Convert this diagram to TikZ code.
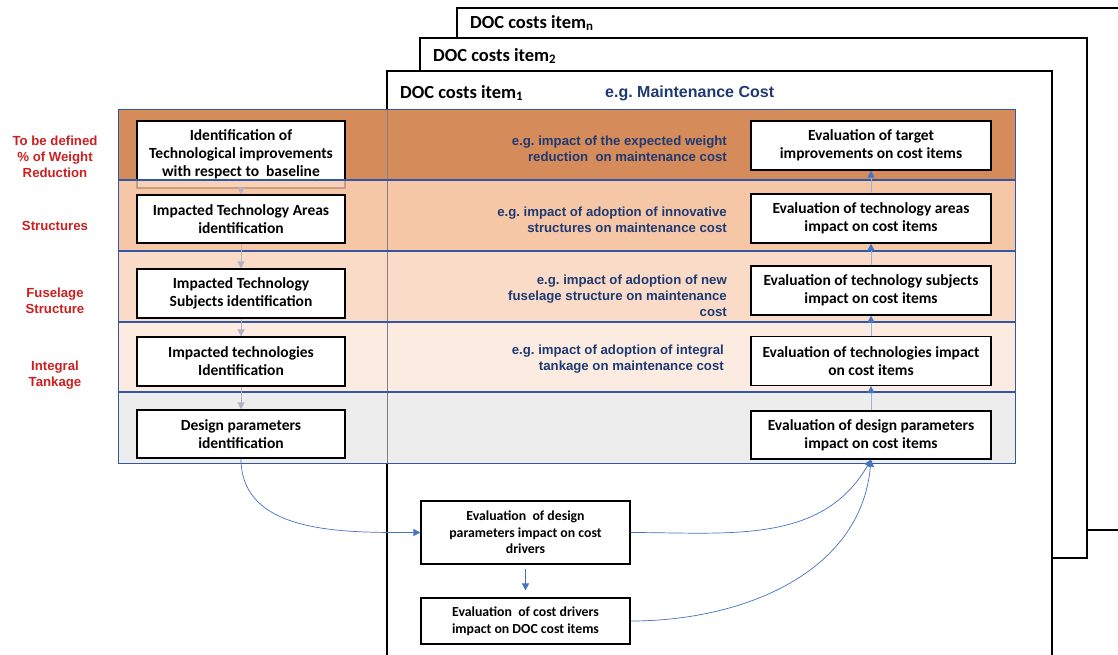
\documentclass[tikz,border=0pt]{standalone}
\usepackage{fontspec}
\setmainfont{Carlito}
\newfontfamily\arialfont{Liberation Sans}
\usetikzlibrary{arrows.meta}
\definecolor{bandA}{HTML}{D58B5A}
\definecolor{bandB}{HTML}{F6C7A6}
\definecolor{bandC}{HTML}{F9DBC7}
\definecolor{bandD}{HTML}{FCEBE0}
\definecolor{bandE}{HTML}{EDEDED}
\definecolor{rule}{HTML}{3457A3}
\definecolor{flow}{HTML}{4472C4}
\definecolor{lavender}{HTML}{B5B0C5}
\definecolor{navy}{HTML}{1F3A73}
\definecolor{redtext}{HTML}{CC1F1F}
\frenchspacing
\begin{document}
\begin{tikzpicture}[x=1pt,y=-1pt,>={Triangle[length=7pt,width=7pt]},
	box/.style={draw=black,line width=1.2pt,fill=white,align=center,inner sep=0pt,
		minimum width=208pt,minimum height=49pt,font=\fontsize{15.5}{18}\selectfont\bfseries},
	evbox/.style={box,minimum width=240pt},
	smallbox/.style={box,minimum width=209pt,font=\fontsize{13.8}{16.5}\selectfont\bfseries},
	frame/.style={draw=black,line width=1.2pt,fill=white},
	title/.style={anchor=west,inner sep=0pt,font=\fontsize{18.5}{20}\selectfont\bfseries},
	lvl/.style={align=center,text=redtext,inner sep=0pt,font=\arialfont\fontsize{13.2}{16}\selectfont\bfseries},
	eg/.style={align=right,anchor=east,text=navy,inner sep=0pt,font=\arialfont\fontsize{13.2}{16}\selectfont\bfseries},
	down/.style={->,lavender,line width=0.8pt},
	up/.style={-{Triangle[length=7pt,width=7pt,color=flow]},draw={flow!55},line width=0.8pt},
	curve/.style={->,flow,line width=0.7pt}]
\useasboundingbox (0,0) rectangle (1118,654);
% cost item frames
\draw[frame] (457,8) rectangle (1135,530);
\draw[frame] (420,38) rectangle (1087,558);
\draw[frame] (387,71) rectangle (1052,665);
\node[title] (itemn) at (470,23) {DOC costs item\textsubscript{n}};
\node[title] (item2) at (433,56) {DOC costs item\textsubscript{2}};
\node[title] (item1) at (400,93) {DOC costs item\textsubscript{1}};
\node[title,text=navy,font=\arialfont\fontsize{16}{19}\selectfont\bfseries] (maint) at (605,93) {e.g. Maintenance Cost};
% bands
\fill[bandA] (118,109) rectangle (1015,180);
\fill[bandB] (118,180) rectangle (1015,251);
\fill[bandC] (118,251) rectangle (1015,322);
\fill[bandD] (118,322) rectangle (1015,392);
\fill[bandE] (118,392) rectangle (1015,463);
\draw[gray,line width=0.8pt] (387,109) -- (387,463);
\node[lvl] (weight) at (55,157) {To be defined\\\% of Weight\\Reduction};
\node[lvl] (struct) at (55,226) {Structures};
\node[lvl] (fuselage) at (55,301) {Fuselage\\Structure};
\node[lvl] (tankage) at (55,375) {Integral\\Tankage};
\node[eg] (egA) at (727,148.5) {e.g. impact of the expected weight\\reduction \ on maintenance cost};
\node[eg] (egB) at (727,220) {e.g. impact of adoption of innovative\\structures on maintenance cost};
\node[eg] (egC) at (727,296) {e.g. impact of adoption of new\\fuselage structure on maintenance\\cost};
\node[eg] (egD) at (724,359) {e.g. impact of adoption of integral\\tankage on maintenance cost};
% left column
\node[box,minimum height=67pt] (idtech) at (241,154.5) {Identification of\\Technological improvements\\with respect to \ baseline};
\node[box,minimum height=48pt] (areas) at (241,219) {Impacted Technology Areas\\identification};
\node[box] (subjects) at (241,293.5) {Impacted Technology\\Subjects identification};
\node[box] (techs) at (241,361.5) {Impacted technologies\\Identification};
\node[box,minimum height=48pt] (params) at (241,434) {Design parameters\\identification};
\fill[bandB,opacity=0.8] (136,180.5) rectangle (346,189.5);
% right column
\node[evbox] (evtarget) at (871,145.5) {Evaluation of target\\improvements on cost items};
\node[evbox] (evareas) at (871,218.5) {Evaluation of technology areas\\impact on cost items};
\node[evbox] (evsubjects) at (871,290.5) {Evaluation of technology subjects\\impact on cost items};
\node[evbox] (evtechs) at (871,361) {Evaluation of technologies impact\\on cost items};
\node[evbox,minimum height=48pt] (evparams) at (871,435) {Evaluation of design parameters\\impact on cost items};
% band rules
\draw[rule,line width=0.9pt] (118,109) rectangle (1015,463);
\foreach \y in {180,251,322,392}
	\draw[rule,line width=1.8pt] (118,\y) -- (1015,\y);
\draw[down] (idtech.south) -- (areas.north);
\draw[down] (areas.south) -- (subjects.north);
\draw[down] (subjects.south) -- (techs.north);
\draw[down] (techs.south) -- (params.north);
\draw[up] (evareas.north) -- (evtarget.south);
\draw[up] (evsubjects.north) -- (evareas.south);
\draw[up] (evtechs.north) -- (evsubjects.south);
\draw[up] (evparams.north) -- (evtechs.south);
% cost drivers
\node[smallbox,minimum height=63pt] (evdrivers) at (525.5,532.5) {Evaluation \ of design\\parameters impact on cost\\drivers};
\node[smallbox,minimum height=46pt] (evdoc) at (525.5,621) {Evaluation \ of cost drivers\\impact on DOC cost items};
\draw[curve] (params.south) to[out=-90,in=180] (evdrivers.west);
\draw[->,flow,line width=0.8pt,shorten <=4pt,shorten >=7pt] (evdrivers.south) -- (evdoc.north);
\draw[curve] (evdrivers.east) to[out=0,in=-120] (evparams.south);
\draw[curve] (evdoc.east) to[out=0,in=-95] (evparams.south);
\end{tikzpicture}
\end{document}
